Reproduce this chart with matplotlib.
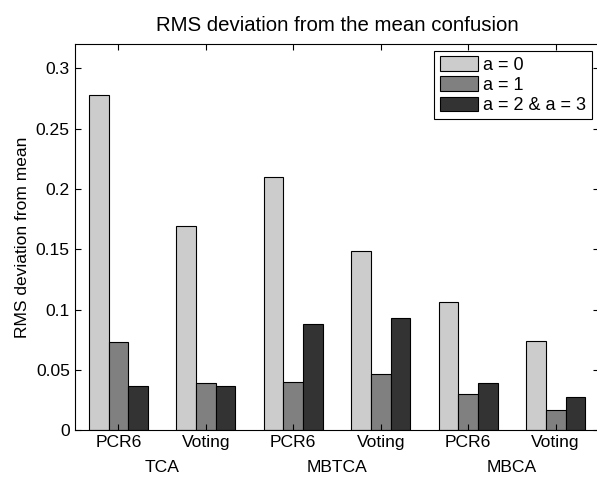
import matplotlib
matplotlib.use("Agg")
import matplotlib.pyplot as plt
import matplotlib.transforms as mtransforms
import numpy as np

plt.rcParams['font.family'] = ['Liberation Sans', 'DejaVu Sans']

methods = ["PCR6", "Voting", "PCR6", "Voting", "PCR6", "Voting"]
groups = ["TCA", "MBTCA", "MBCA"]
series = ["a = 0", "a = 1", "a = 2 & a = 3"]
a0 = [0.278, 0.169, 0.210, 0.149, 0.106, 0.074]
a1 = [0.073, 0.039, 0.040, 0.047, 0.030, 0.017]
a23 = [0.037, 0.037, 0.088, 0.093, 0.039, 0.028]
colors = ["#cccccc", "#808080", "#333333"]

fig = plt.figure(figsize=(5.97, 4.83), dpi=100)
# right edge of the box sits just past the image edge, as in the original
ax = fig.add_axes([0.1251, 0.1087, 0.8789, 0.8002])

x = np.arange(1, len(methods) + 1)
w = 0.225
for i, (vals, lab) in enumerate(zip([a0, a1, a23], series)):
    ax.bar(x + (i - 1) * w, vals, w, color=colors[i], edgecolor="black",
           linewidth=0.8, label=lab)

ax.set_xlim(0.5, 6.5)
ax.set_ylim(0, 0.32)
ax.set_xticks(x)
ax.set_xticklabels(methods)
ax.set_yticks([0, 0.05, 0.1, 0.15, 0.2, 0.25, 0.3])
ax.set_yticklabels(["0", "0.05", "0.1", "0.15", "0.2", "0.25", "0.3"])
ax.tick_params(direction="in", top=True, right=True, labelsize=12.6, length=4)
ax.spines['right'].set_visible(False)
ax.set_ylabel("RMS deviation from mean", fontsize=12.5)
ax.set_title("RMS deviation from the mean confusion", fontsize=14.7, pad=9.5)

trans = mtransforms.blended_transform_factory(ax.transData, ax.transAxes)
for k, g in enumerate(groups):
    ax.text(2 * k + 1.5, -0.097, g, transform=trans, ha="center", va="center",
            fontsize=12.6)

leg = ax.legend(loc="upper right", bbox_to_anchor=(591.7 / 597, 1 - 51 / 483),
                bbox_transform=fig.transFigure, borderaxespad=0, fancybox=False,
                edgecolor="black", fontsize=13, handlelength=2.13,
                handleheight=0.83, labelspacing=0.15, handletextpad=0.28,
                borderpad=0.3, framealpha=1)
leg.get_frame().set_linewidth(0.8)

fig.savefig("out.png", dpi=100)
